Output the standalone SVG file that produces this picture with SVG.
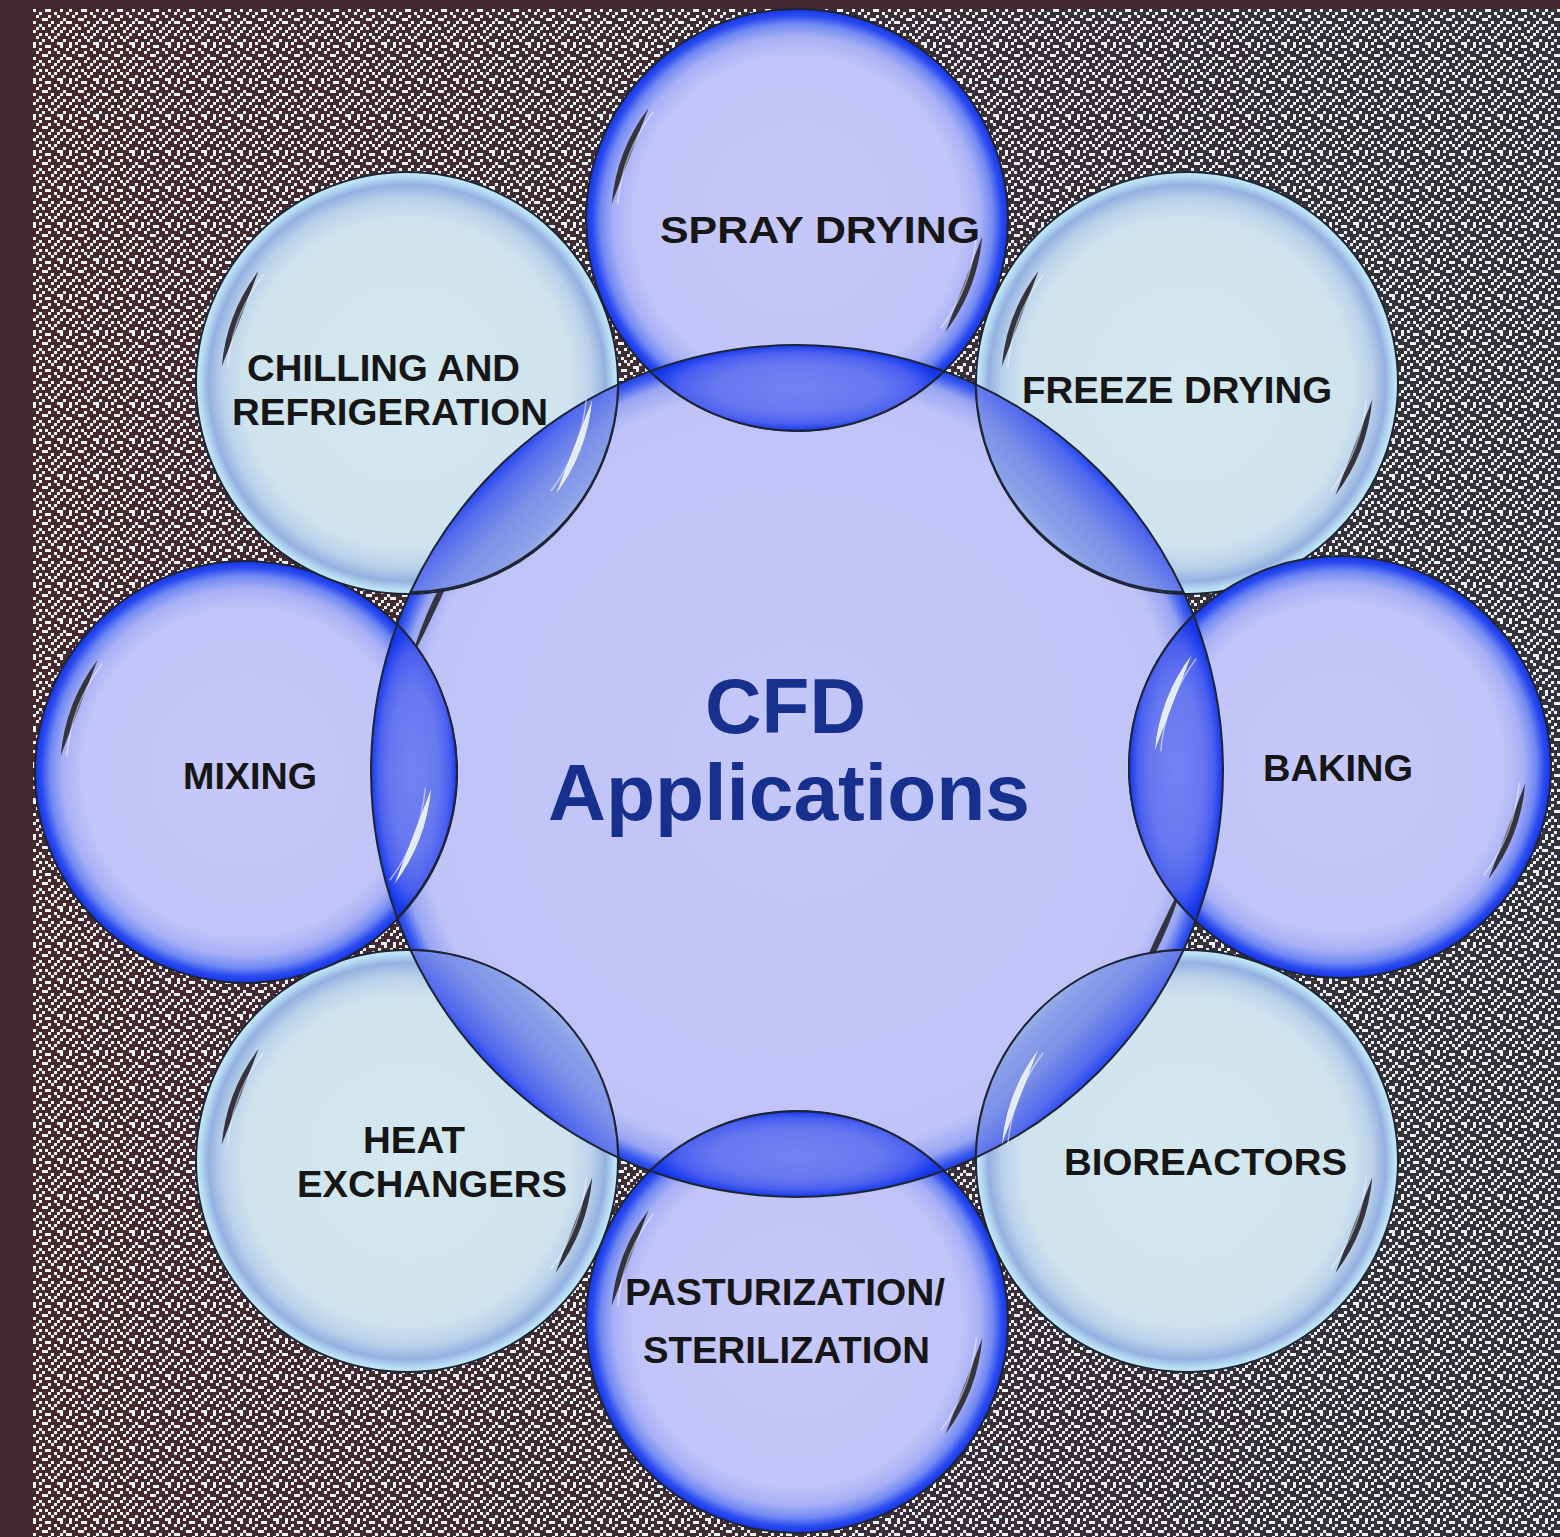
<svg xmlns="http://www.w3.org/2000/svg" xmlns:xlink="http://www.w3.org/1999/xlink" width="1560" height="1537" viewBox="0 0 1560 1537">
<style>
.lbl{font-family:"Liberation Sans",Arial,Helvetica,sans-serif;font-weight:bold;font-size:37px;fill:#161616}
.title{font-family:"Liberation Sans",Arial,Helvetica,sans-serif;font-weight:bold;fill:#17308e}
.rim{stroke:#1d2536;stroke-width:2}
.dark{fill:url(#gDark)}
.light{fill:url(#gLight)}
.streak{fill:#34333e}
.glint{fill:#e2eafb}
.shine{fill:none;stroke:#f4faff;stroke-width:1.5;opacity:.55}
</style>
<defs>
  <linearGradient id="bgTone" x1="0" y1="0" x2="1" y2="0">
    <stop offset="0" stop-color="#46292f"/>
    <stop offset="1" stop-color="#34333d"/>
  </linearGradient>
  <!-- 12x12 cell dither tile, 3px cells -->
  <pattern id="dither" x="33" y="9" width="36" height="36" patternUnits="userSpaceOnUse">
    <path fill="#eef4f2" shape-rendering="crispEdges" d="M0 0h3v3h-3z M12 0h3v3h-3z M15 0h3v3h-3z M27 0h3v3h-3z
      M6 3h3v3h-3z M21 3h3v3h-3z M33 3h3v3h-3z
      M3 6h3v3h-3z M15 6h3v3h-3z M24 6h3v3h-3z
      M9 9h3v3h-3z M12 9h3v3h-3z M30 9h3v3h-3z
      M0 12h3v3h-3z M18 12h3v3h-3z M27 12h3v3h-3z M33 12h3v3h-3z
      M6 15h3v3h-3z M15 15h3v3h-3z M24 15h3v3h-3z
      M3 18h3v3h-3z M9 18h3v3h-3z M21 18h3v3h-3z M30 18h3v3h-3z
      M0 21h3v3h-3z M18 21h3v3h-3z M27 21h3v3h-3z
      M6 24h3v3h-3z M12 24h3v3h-3z M24 24h3v3h-3z M33 24h3v3h-3z
      M3 27h3v3h-3z M15 27h3v3h-3z M21 27h3v3h-3z
      M9 30h3v3h-3z M18 30h3v3h-3z M30 30h3v3h-3z
      M0 33h3v3h-3z M6 33h3v3h-3z M24 33h3v3h-3z M27 33h3v3h-3z"/>
  </pattern>

  <radialGradient id="gCenter">
    <stop offset="0" stop-color="#c4c7f8"/>
    <stop offset=".9" stop-color="#bfc3f7"/>
    <stop offset=".955" stop-color="#98a6f3"/>
    <stop offset=".985" stop-color="#3858ef"/>
    <stop offset="1" stop-color="#2040e0"/>
  </radialGradient>
  <radialGradient id="gDark">
    <stop offset="0" stop-color="#c6c8f9"/>
    <stop offset=".78" stop-color="#c1c4f8"/>
    <stop offset=".87" stop-color="#a8b0f6"/>
    <stop offset=".93" stop-color="#7088f3"/>
    <stop offset=".97" stop-color="#2a4af0"/>
    <stop offset="1" stop-color="#1535e6"/>
  </radialGradient>
  <radialGradient id="gLight">
    <stop offset="0" stop-color="#d4e8ef"/>
    <stop offset=".78" stop-color="#cfe3ee"/>
    <stop offset=".88" stop-color="#b8d0ea"/>
    <stop offset=".94" stop-color="#94b0e0"/>
    <stop offset=".975" stop-color="#b4d8f2"/>
    <stop offset="1" stop-color="#c6ecf8"/>
  </radialGradient>

  <!-- overlap lens, in a frame where the hub is at the origin and the satellite lies on +x -->
  <radialGradient id="lensDark" gradientUnits="userSpaceOnUse" cx="383" cy="0" r="147" gradientTransform="translate(383 0) scale(.3 1) translate(-383 0)">
    <stop offset="0" stop-color="#7482f2"/>
    <stop offset=".55" stop-color="#6878f0"/>
    <stop offset=".8" stop-color="#4c60f0"/>
    <stop offset=".93" stop-color="#2444ee"/>
    <stop offset="1" stop-color="#1434e8"/>
  </radialGradient>
  <radialGradient id="lensDarkB" gradientUnits="userSpaceOnUse" cx="379" cy="0" r="153" gradientTransform="translate(379 0) scale(.31 1) translate(-379 0)">
    <stop offset="0" stop-color="#7482f2"/>
    <stop offset=".55" stop-color="#6878f0"/>
    <stop offset=".8" stop-color="#4c60f0"/>
    <stop offset=".93" stop-color="#2444ee"/>
    <stop offset="1" stop-color="#1434e8"/>
  </radialGradient>
  <linearGradient id="lensLight" gradientUnits="userSpaceOnUse" x1="340" y1="0" x2="426" y2="0">
    <stop offset="0" stop-color="#9cb2ea"/>
    <stop offset=".12" stop-color="#8ca2e8"/>
    <stop offset=".5" stop-color="#7a8ee8"/>
    <stop offset=".85" stop-color="#5068ee"/>
    <stop offset="1" stop-color="#2444f0"/>
  </linearGradient>
  <path id="lens" d="M399.8,-147A426,426 0 0 1 399.8,147A211,211 0 0 1 399.8,-147Z"/>
  <path id="lensB" d="M397.6,-152.9A426,426 0 0 1 397.6,152.9A211,211 0 0 1 397.6,-152.9Z"/>

  <!-- glare crescents of a satellite bubble (origin = bubble centre) -->
  <g id="streaks">
    <path d="M-148.5,-111.9A186,186 0 0 0 -185.3,-16.2L-148.5,-111.9Z"/>
    <path d="M148.5,111.9A186,186 0 0 0 185.3,16.2L148.5,111.9Z"/>
  </g>
  <g id="shines">
    <path d="M-143.8,-108.3A180,180 0 0 0 -179.3,-15.7"/>
    <path d="M143.8,108.3A180,180 0 0 0 179.3,15.7"/>
  </g>
  <!-- glare crescents of the hub -->
  <g id="cStreaks">
    <path d="M-333.3,-224.8A402,402 0 0 0 -386.4,-110.8A1500,1500 0 0 0 -333.3,-224.8Z"/>
    <path d="M333.3,224.8A402,402 0 0 0 386.4,110.8A1500,1500 0 0 0 333.3,224.8Z"/>
  </g>
  <clipPath id="clipCenter"><circle cx="797" cy="771" r="426"/></clipPath>
</defs>

<!-- backdrop -->
<rect width="1560" height="1537" fill="#43292f"/>
<rect x="33" y="9" width="1527" height="1528" fill="url(#bgTone)"/>
<rect x="33" y="9" width="1527" height="1528" fill="url(#dither)"/>

<g id="node-center">
  <circle cx="797" cy="771" r="426" fill="url(#gCenter)" class="rim"/>
  <use href="#cStreaks" transform="translate(797 771)" class="streak"/>
  <text class="title" x="705" y="733" font-size="78" textLength="161" lengthAdjust="spacingAndGlyphs">CFD</text>
  <text class="title" x="548" y="820" font-size="80" textLength="482" lengthAdjust="spacingAndGlyphs">Applications</text>
</g>

<g id="node-spray-drying">
  <circle cx="797" cy="220" r="211" class="dark rim"/>
  <use href="#lens" transform="translate(797 771) rotate(-90)" fill="url(#lensDark)" class="rim"/>
  <use href="#streaks" transform="translate(797 220)" class="streak"/>
  <use href="#shines" transform="translate(797 220)" class="shine"/>
  <text class="lbl" x="660" y="243" textLength="320" lengthAdjust="spacingAndGlyphs">SPRAY DRYING</text>
</g>

<g id="node-freeze-drying">
  <circle cx="1187" cy="383" r="211" class="light rim"/>
  <use href="#lens" transform="translate(797 771) rotate(-45)" fill="url(#lensLight)" class="rim"/>
  <use href="#streaks" transform="translate(1187 383)" class="streak"/>
  <use href="#shines" transform="translate(1187 383)" class="shine"/>
  <text class="lbl" x="1022" y="403" textLength="310" lengthAdjust="spacingAndGlyphs">FREEZE DRYING</text>
</g>

<g id="node-baking">
  <circle cx="1340" cy="767" r="211" class="dark rim"/>
  <use href="#lensB" transform="translate(797 771) rotate(-0.42)" fill="url(#lensDarkB)" class="rim"/>
  <use href="#streaks" transform="translate(1340 767)" class="streak"/>
  <g clip-path="url(#clipCenter)"><use href="#streaks" transform="translate(1340 767)" class="glint"/></g>
  <use href="#shines" transform="translate(1340 767)" class="shine"/>
  <text class="lbl" x="1263" y="781" textLength="150" lengthAdjust="spacingAndGlyphs">BAKING</text>
</g>

<g id="node-bioreactors">
  <circle cx="1187" cy="1161" r="211" class="light rim"/>
  <use href="#lens" transform="translate(797 771) rotate(45)" fill="url(#lensLight)" class="rim"/>
  <use href="#streaks" transform="translate(1187 1161)" class="streak"/>
  <g clip-path="url(#clipCenter)"><use href="#streaks" transform="translate(1187 1161)" class="glint"/></g>
  <use href="#shines" transform="translate(1187 1161)" class="shine"/>
  <text class="lbl" x="1064" y="1175" textLength="283" lengthAdjust="spacingAndGlyphs">BIOREACTORS</text>
</g>

<g id="node-pasteurization">
  <circle cx="797" cy="1322" r="211" class="dark rim"/>
  <use href="#lens" transform="translate(797 771) rotate(90)" fill="url(#lensDark)" class="rim"/>
  <use href="#streaks" transform="translate(797 1322)" class="streak"/>
  <use href="#shines" transform="translate(797 1322)" class="shine"/>
  <text class="lbl" x="625" y="1305" textLength="320" lengthAdjust="spacingAndGlyphs">PASTURIZATION/</text>
  <text class="lbl" x="643" y="1363" textLength="287" lengthAdjust="spacingAndGlyphs">STERILIZATION</text>
</g>

<g id="node-heat-exchangers">
  <circle cx="407" cy="1161" r="211" class="light rim"/>
  <use href="#lens" transform="translate(797 771) rotate(135)" fill="url(#lensLight)" class="rim"/>
  <use href="#streaks" transform="translate(407 1161)" class="streak"/>
  <use href="#shines" transform="translate(407 1161)" class="shine"/>
  <text class="lbl" x="363" y="1153" textLength="102" lengthAdjust="spacingAndGlyphs">HEAT</text>
  <text class="lbl" x="297" y="1197" textLength="270" lengthAdjust="spacingAndGlyphs">EXCHANGERS</text>
</g>

<g id="node-mixing">
  <circle cx="246" cy="772" r="211" class="dark rim"/>
  <use href="#lens" transform="translate(797 771) rotate(180)" fill="url(#lensDark)" class="rim"/>
  <use href="#streaks" transform="translate(246 772)" class="streak"/>
  <g clip-path="url(#clipCenter)"><use href="#streaks" transform="translate(246 772)" class="glint"/></g>
  <use href="#shines" transform="translate(246 772)" class="shine"/>
  <text class="lbl" x="183" y="789" textLength="134" lengthAdjust="spacingAndGlyphs">MIXING</text>
</g>

<g id="node-chilling">
  <circle cx="407" cy="383" r="211" class="light rim"/>
  <use href="#lens" transform="translate(797 771) rotate(-135)" fill="url(#lensLight)" class="rim"/>
  <use href="#streaks" transform="translate(407 383)" class="streak"/>
  <g clip-path="url(#clipCenter)"><use href="#streaks" transform="translate(407 383)" class="glint"/></g>
  <use href="#shines" transform="translate(407 383)" class="shine"/>
  <text class="lbl" x="247" y="381" textLength="273" lengthAdjust="spacingAndGlyphs">CHILLING AND</text>
  <text class="lbl" x="232" y="425" textLength="316" lengthAdjust="spacingAndGlyphs">REFRIGERATION</text>
</g>
</svg>
